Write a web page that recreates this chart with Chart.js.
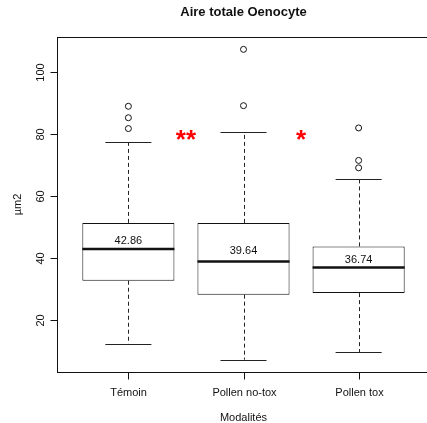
<!DOCTYPE html>
<html>
<head>
<meta charset="utf-8">
<script src="https://cdn.jsdelivr.net/npm/chart.js@4.4.1/dist/chart.umd.min.js"></script>
<style>
  html, body { margin: 0; padding: 0; background: #fff; overflow: hidden; }
  #wrap { width: 427px; height: 423px; overflow: hidden; }
  #c { display: block; }
</style>
</head>
<body>
<div id="wrap"><canvas id="c" width="440" height="423"></canvas></div>
<script>
// values
const categories = ['Témoin', 'Pollen no-tox', 'Pollen tox'];
const lowerWhisker = [12.2, 7.1, 9.5];
const q1 = [32.6, 28.1, 28.6];
const medians = [42.9, 38.8, 36.9];
const q3 = [51.3, 51.3, 43.7];
const upperWhisker = [77.3, 80.6, 65.4];
const outliers = [[81.8, 85.3, 89.0], [89.2, 107.4], [69.1, 71.5, 82.0]];
const means = [42.86, 39.64, 36.74];
const stars = ['**', '*'];
const starLevel = 79.5;
const yTicks = [20, 40, 60, 80, 100];

const FONT = '"Liberation Sans", Arial, Helvetica, sans-serif';

function seg(ctx, x1, y1, x2, y2){
  ctx.beginPath();
  ctx.moveTo(x1, y1);
  ctx.lineTo(x2, y2);
  ctx.stroke();
}

const boxPlugin = {
  id: 'boxplot',
  beforeDatasetsDraw(chart){
    const {ctx, scales: {x, y}} = chart;
    ctx.save();
    ctx.strokeStyle = '#222';
    ctx.lineWidth = 1;
    categories.forEach((c, i) => {
      const px = Math.round(x.getPixelForValue(i + 1)) + 0.5;
      ctx.setLineDash([4, 3]);
      seg(ctx, px, y.getPixelForValue(q3[i]), px, y.getPixelForValue(upperWhisker[i]));
      seg(ctx, px, y.getPixelForValue(q1[i]), px, y.getPixelForValue(lowerWhisker[i]));
      ctx.setLineDash([]);
      const l = x.getPixelForValue(i + 1 - 0.2), r = x.getPixelForValue(i + 1 + 0.2);
      const yu = Math.round(y.getPixelForValue(upperWhisker[i])) + 0.5;
      const yl = Math.round(y.getPixelForValue(lowerWhisker[i])) + 0.5;
      seg(ctx, l, yu, r, yu);
      seg(ctx, l, yl, r, yl);
    });
    ctx.restore();
  },
  afterDatasetsDraw(chart){
    const {ctx, scales: {x, y}} = chart;
    ctx.save();
    // medians
    ctx.strokeStyle = '#111';
    ctx.lineWidth = 2.5;
    categories.forEach((c, i) => {
      const ym = y.getPixelForValue(medians[i]);
      seg(ctx, x.getPixelForValue(i + 1 - 0.4), ym, x.getPixelForValue(i + 1 + 0.4), ym);
    });
    // mean labels
    ctx.fillStyle = '#111';
    ctx.font = '11px ' + FONT;
    ctx.textAlign = 'center';
    ctx.textBaseline = 'middle';
    categories.forEach((c, i) => {
      ctx.fillText(means[i].toFixed(2), x.getPixelForValue(i + 1), y.getPixelForValue(means[i]) - 8);
    });
    // significance stars between groups
    ctx.fillStyle = '#ff0000';
    ctx.font = 'bold 26px ' + FONT;
    ctx.textBaseline = 'alphabetic';
    stars.forEach((s, i) => {
      ctx.fillText(s, x.getPixelForValue(i + 1.5), y.getPixelForValue(starLevel) + 12);
    });
    ctx.restore();
  },
  afterDraw(chart){
    const {ctx, chartArea: a, scales: {x, y}} = chart;
    ctx.save();
    ctx.strokeStyle = '#111';
    ctx.lineWidth = 1;
    const L = Math.round(a.left) + 0.5, T = Math.round(a.top) + 0.5;
    const R = Math.round(a.right) + 0.5, B = Math.round(a.bottom) + 0.5;
    ctx.strokeRect(L, T, R - L, B - T);
    ctx.fillStyle = '#111';
    ctx.font = '11px ' + FONT;
    ctx.textAlign = 'center';
    ctx.textBaseline = 'middle';
    // y axis
    yTicks.forEach(v => {
      const py = Math.round(y.getPixelForValue(v)) + 0.5;
      seg(ctx, L - 7, py, L, py);
      ctx.save();
      ctx.translate(L - 17, py);
      ctx.rotate(-Math.PI / 2);
      ctx.fillText(String(v), 0, 0);
      ctx.restore();
    });
    // x axis
    categories.forEach((c, i) => {
      const px = Math.round(x.getPixelForValue(i + 1)) + 0.5;
      seg(ctx, px, B, px, B + 7);
      ctx.fillText(c, px, B + 20);
    });
    // axis titles
    const cx = (a.left + a.right) / 2, cy = (a.top + a.bottom) / 2;
    ctx.fillText('Modalités', cx, B + 45);
    ctx.save();
    ctx.translate(18, cy);
    ctx.rotate(-Math.PI / 2);
    ctx.fillText('µm2', 0, 0);
    ctx.restore();
    // main title
    ctx.font = 'bold 13px ' + FONT;
    ctx.fillText('Aire totale Oenocyte', cx, 12);
    ctx.restore();
  }
};

new Chart(document.getElementById('c'), {
  type: 'bar',
  data: {
    datasets: [
      {
        type: 'bar',
        data: categories.map((c, i) => ({x: i + 1, y: [q1[i], q3[i]]})),
        backgroundColor: '#ffffff',
        borderColor: '#111',
        borderWidth: 1,
        borderSkipped: false,
        barPercentage: 0.8,
        categoryPercentage: 1,
        order: 2
      },
      {
        type: 'scatter',
        data: outliers.flatMap((arr, i) => arr.map(v => ({x: i + 1, y: v}))),
        pointStyle: 'circle',
        radius: 3,
        borderColor: '#111',
        borderWidth: 1,
        backgroundColor: 'rgba(0,0,0,0)',
        order: 1
      }
    ]
  },
  options: {
    responsive: false,
    animation: false,
    layout: {padding: {left: 57, right: 10, top: 37, bottom: 51}},
    plugins: {legend: {display: false}, tooltip: {enabled: false}},
    scales: {
      x: {
        type: 'linear', min: 0.38, max: 3.62, offset: false, display: false,
        afterBuildTicks: ax => { ax.ticks = categories.map((c, i) => ({value: i + 1})); }
      },
      y: {type: 'linear', min: 3.1, max: 111.4, display: false}
    }
  },
  plugins: [boxPlugin]
});
</script>
</body>
</html>
